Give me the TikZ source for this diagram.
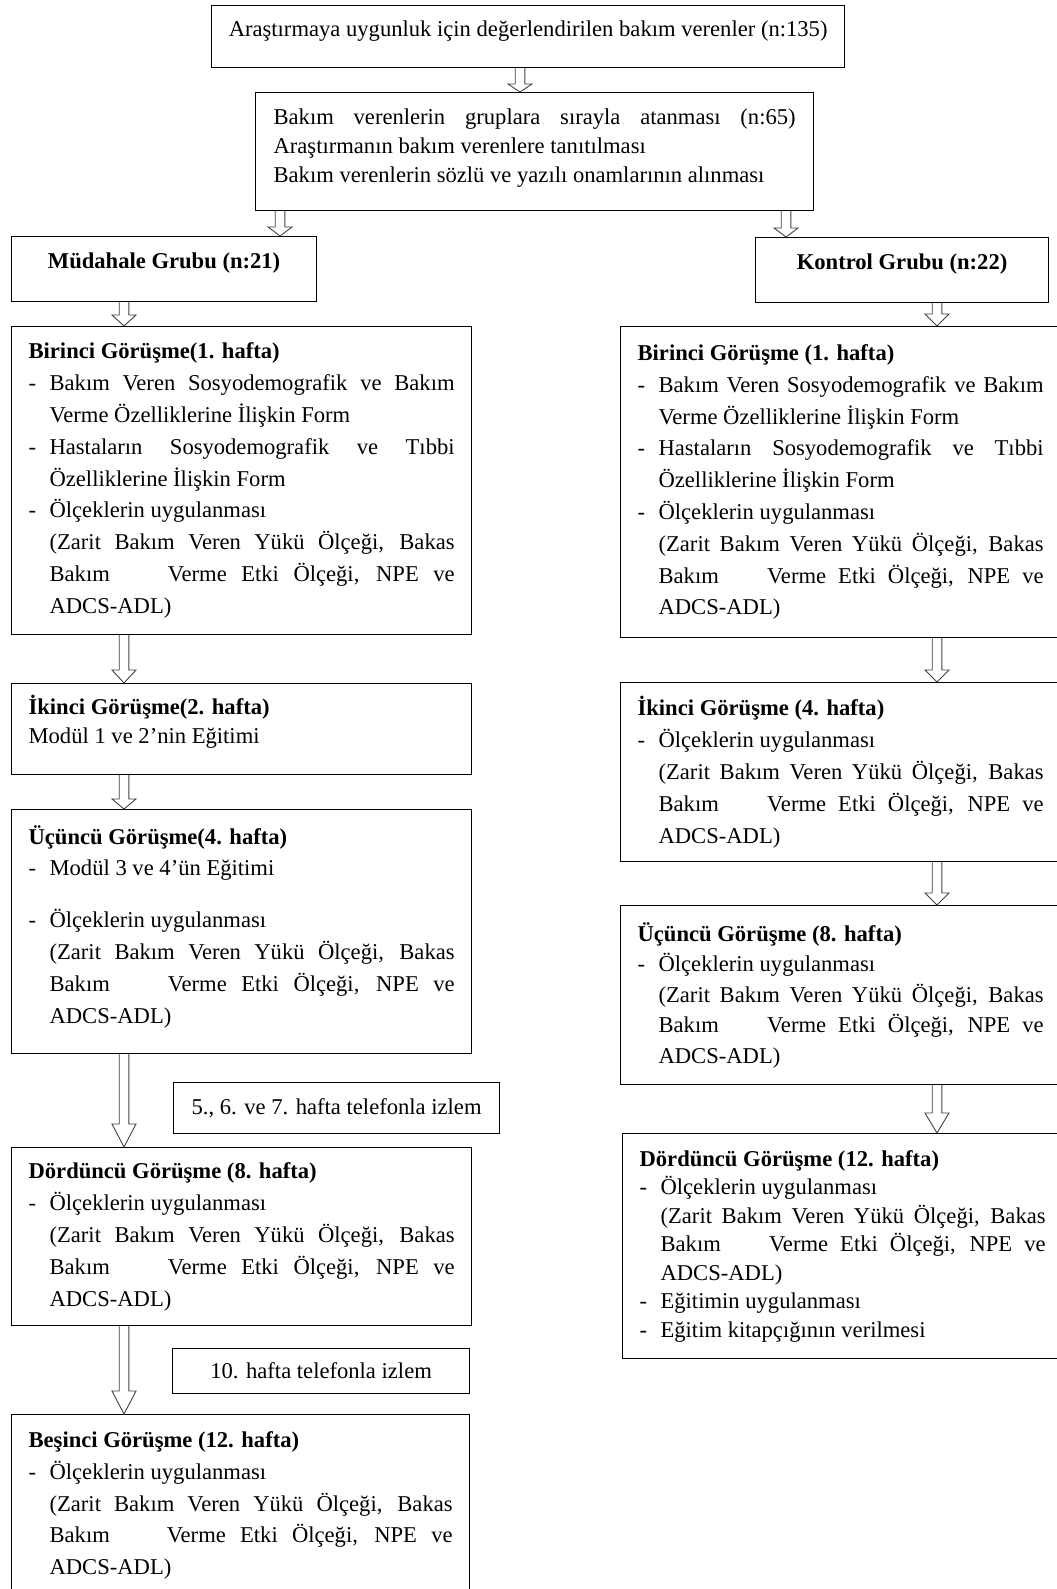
\documentclass[tikz,border=0pt]{standalone}
\usepackage{fontspec}
\setmainfont{Liberation Serif}
\usepackage{tikz}
\usetikzlibrary{calc,positioning}
\setlength{\parindent}{0pt}
\newlength{\dashind}
\setlength{\dashind}{10.5pt}
\newcommand{\dashitem}[1]{\par\hangindent=\dashind\hangafter=1\noindent\makebox[\dashind][l]{-}#1}
\newcommand{\indpar}[1]{\par\hangindent=\dashind\hangafter=0\noindent #1\par}
\newcommand{\olcekler}{\dashitem{Ölçeklerin uygulanması}%
  \indpar{(Zarit Bakım Veren Yükü Ölçeği, Bakas\linebreak Bakım\ \ \ \ Verme Etki Ölçeği, NPE ve\linebreak ADCS-ADL)}}
% kutunun altinda bos alan
\newcommand{\padb}[1]{\par\hrule height #1 width 0pt\relax}
\tikzset{
    basebox/.style={
        draw,
        line width=0.6pt,
        anchor=north west,
        inner xsep=8.5pt,
        inner ysep=0pt,
        align=justify,
        font=\fontsize{11.3pt}{#1}\selectfont
    },
    leftbox/.style={basebox=#1, text width=213pt, minimum width=230pt},
    rightbox/.style={basebox=#1, text width=203pt, minimum width=220pt},
    % tek satirli kutular
    headbox/.style={
        draw,
        line width=0.6pt,
        anchor=north west,
        align=center,
        text height=7.7pt,
        text depth=8pt,
        font=\fontsize{11.3pt}{13pt}\selectfont
    },
    notebox/.style={
        draw,
        line width=0.6pt,
        anchor=north west,
        align=center,
        font=\fontsize{11.3pt}{13pt}\selectfont
    },
    % bos (ici beyaz) blok ok
    hollowarrow/.style={
        draw=black!75,
        line width=0.45pt,
        to path={let \p1=(\tikztostart), \p2=(\tikztotarget) in
          (\x1-2.4pt,\y1) -- (\x1-2.4pt,\y2+#1) -- (\x1-6pt,\y2+#1) -- (\x1,\y2)
          -- (\x1+6pt,\y2+#1) -- (\x1+2.4pt,\y2+#1) -- (\x1+2.4pt,\y1)}
    },
    hollowarrow/.default=6pt
}

\begin{document}
\begin{tikzpicture}[x=0.5pt,y=-0.5pt]
    \useasboundingbox (0,0) rectangle (1056,1589);

    \node[headbox, minimum width=316.5pt, minimum height=31pt] (elig) at (211,5)
        {Araştırmaya uygunluk için değerlendirilen bakım verenler (n:135)};
    \node[basebox=14.25pt, inner xsep=9pt, text width=261pt, minimum width=279pt, minimum height=59pt] (atama) at (255,92)
        {Bakım verenlerin gruplara sırayla atanması (n:65)\linebreak
         Araştırmanın bakım verenlere tanıtılması\newline
         Bakım verenlerin sözlü ve yazılı onamlarının alınması\padb{3.5pt}};

    \node[headbox, font=\fontsize{11.3pt}{13pt}\selectfont\bfseries, minimum width=152.5pt, minimum height=32.5pt] (mud) at (11,236)
        {Müdahale Grubu (n:21)};
    \node[headbox, font=\fontsize{11.3pt}{13pt}\selectfont\bfseries, minimum width=146.5pt, minimum height=32.5pt] (kon) at (755,237)
        {Kontrol Grubu (n:22)};

    % mudahale grubu
    \node[leftbox=15.9pt, minimum height=154pt] (bir1) at (11,326)
        {\textbf{Birinci Görüşme(1. hafta)}%
         \dashitem{Bakım Veren Sosyodemografik ve Bakım\linebreak Verme Özelliklerine İlişkin Form}%
         \dashitem{Hastaların Sosyodemografik ve Tıbbi\linebreak Özelliklerine İlişkin Form}%
         \olcekler};
    \node[leftbox=14.5pt, minimum height=45.5pt] (iki1) at (11,683)
        {\textbf{İkinci Görüşme(2. hafta)}\par Modül 1 ve 2’nin Eğitimi\padb{7pt}};
    \node[leftbox=15.9pt, minimum height=122pt] (ucu1) at (11,809)
        {\textbf{Üçüncü Görüşme(4. hafta)}%
         \dashitem{Modül 3 ve 4’ün Eğitimi}\par\vspace{10pt}%
         \olcekler\padb{5pt}};
    \node[notebox, minimum width=163pt, minimum height=25.5pt] (tel1) at (173,1082)
        {5., 6. ve 7. hafta telefonla izlem};
    \node[leftbox=16pt, minimum height=89pt] (dor1) at (11,1147)
        {\textbf{Dördüncü Görüşme (8. hafta)}\olcekler};
    \node[notebox, minimum width=148.5pt, minimum height=22.5pt] (tel2) at (172,1348)
        {10. hafta telefonla izlem};
    \node[leftbox=15.9pt, text width=212pt, minimum width=229pt, minimum height=91pt] (bes1) at (11,1414)
        {\textbf{Beşinci Görüşme (12. hafta)}\olcekler};

    % kontrol grubu
    \node[rightbox=15.9pt, minimum height=155.5pt] (bir2) at (620,326)
        {\textbf{Birinci Görüşme (1. hafta)}%
         \dashitem{Bakım Veren Sosyodemografik ve Bakım\linebreak Verme Özelliklerine İlişkin Form}%
         \dashitem{Hastaların Sosyodemografik ve Tıbbi\linebreak Özelliklerine İlişkin Form}%
         \olcekler};
    \node[rightbox=16pt, minimum height=89.5pt] (iki2) at (620,682)
        {\textbf{İkinci Görüşme (4. hafta)}\olcekler};
    \node[rightbox=15.25pt, minimum height=89.5pt] (ucu2) at (620,905)
        {\textbf{Üçüncü Görüşme (8. hafta)}\olcekler};
    \node[rightbox=14.25pt, minimum width=219pt, minimum height=112.5pt] (dor2) at (622,1133)
        {\textbf{Dördüncü Görüşme (12. hafta)}\olcekler
         \dashitem{Eğitimin uygulanması}%
         \dashitem{Eğitim kitapçığının verilmesi}};

    \coordinate (xtop) at (520,0);
    \coordinate (xmud) at (280,0);
    \coordinate (xkon) at (786,0);
    \coordinate (xl) at (124,0);
    \coordinate (xr) at (937,0);

    \draw[hollowarrow=4pt] (xtop |- elig.south) to (xtop |- atama.north);
    \draw[hollowarrow=4.5pt] (xmud |- atama.south) to (xmud |- mud.north);
    \draw[hollowarrow=4.5pt] (xkon |- atama.south) to (xkon |- kon.north);
    \draw[hollowarrow=5.5pt] (xl |- mud.south) to (xl |- bir1.north);
    \draw[hollowarrow=6pt] (xr |- kon.south) to (xr |- bir2.north);
    \draw[hollowarrow=6.5pt] (xl |- bir1.south) to (xl |- iki1.north);
    \draw[hollowarrow=5pt] (xl |- iki1.south) to (xl |- ucu1.north);
    \draw[hollowarrow=11.5pt] (xl |- ucu1.south) to (xl |- dor1.north);
    \draw[hollowarrow=11.5pt] (xl |- dor1.south) to (xl |- bes1.north);
    \draw[hollowarrow] (xr |- bir2.south) to (xr |- iki2.north);
    \draw[hollowarrow] (xr |- iki2.south) to (xr |- ucu2.north);
    \draw[hollowarrow=10pt] (xr |- ucu2.south) to (xr |- dor2.north);
\end{tikzpicture}
\end{document}
